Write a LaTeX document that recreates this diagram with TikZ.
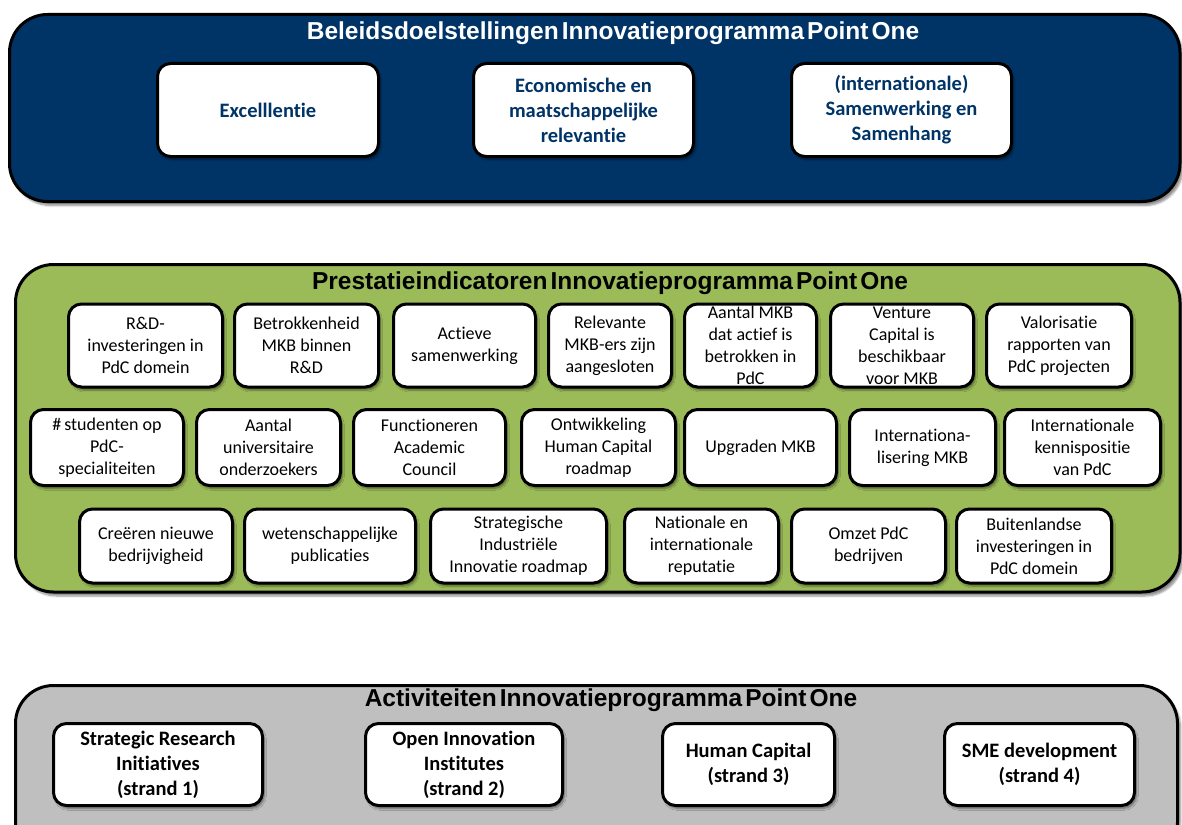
\documentclass[tikz,border=0pt]{standalone}
\usepackage{fontspec}
\setmainfont[Ligatures=NoCommon]{Carlito}
\newfontfamily\titlefont[WordSpace=0.45]{Liberation Sans}
\usetikzlibrary{shadows.blur}

\definecolor{pobblue}{RGB}{0,51,102}
\definecolor{pobgreen}{RGB}{155,187,89}
\definecolor{pobgray}{RGB}{191,191,191}

\tikzset{
  panel/.style={draw=black,line width=3pt,rounded corners=38pt,
    blur shadow={shadow xshift=3pt,shadow yshift=-4pt,shadow blur steps=6,shadow opacity=45}},
  paneltitle/.style={font=\titlefont\bfseries\fontsize{24.5}{28}\selectfont,inner sep=0pt},
  box/.style={draw=black,fill=white,line width=3pt,rounded corners=13pt,inner sep=0pt,
    align=center,
    blur shadow={shadow xshift=2pt,shadow yshift=-3pt,shadow blur steps=5,shadow opacity=45}},
  goalbox/.style={box,minimum height=93pt,text=pobblue,
    font=\bfseries\fontsize{20.5}{25}\selectfont},
  indbox/.style={box,font=\fontsize{18}{22}\selectfont},
  actbox/.style={box,minimum height=82pt,
    font=\bfseries\fontsize{20.5}{25}\selectfont}
}

\begin{document}
\begin{tikzpicture}[x=1pt,y=-1pt]
\useasboundingbox (0,0) rectangle (1182,824);

% Beleidsdoelstellingen
\path[panel,fill=pobblue] (9.5,14.5) rectangle (1180,201.5);
\node[paneltitle,text=white] (goaltitle) at (613,33) {Beleidsdoelstellingen Innovatieprogramma Point One};
\node[goalbox,minimum width=221pt] (excel) at (268,110) {Excelllentie};
\node[goalbox,minimum width=220pt] (econ) at (583.5,110) {Economische en\\maatschappelijke\\relevantie};
\node[goalbox,minimum width=220pt] (samen) at (901.5,110) {(internationale)\\Samenwerking en\\Samenhang};

% Prestatieindicatoren
\path[panel,fill=pobgreen] (15.5,264.5) rectangle (1180,592);
\node[paneltitle] (indtitle) at (610,283) {Prestatieindicatoren Innovatieprogramma Point One};

\node[indbox,minimum width=154pt,minimum height=83pt] (rdinv) at (145.5,345.5) {R\&D-\\investeringen in\\PdC domein};
\node[indbox,minimum width=144pt,minimum height=83pt] (betrok) at (306.5,345.5) {Betrokkenheid\\MKB binnen\\R\&D};
\node[indbox,minimum width=142pt,minimum height=83pt] (actief) at (464.5,345.5) {Actieve\\samenwerking};
\node[indbox,minimum width=123pt,minimum height=83pt] (relev) at (610,345.5) {Relevante\\MKB-ers zijn\\aangesloten};
\node[indbox,minimum width=132pt,minimum height=83pt] (aantalmkb) at (750.5,345.5) {Aantal MKB\\dat actief is\\betrokken in\\PdC};
\node[indbox,minimum width=143pt,minimum height=83pt] (venture) at (902,345.5) {Venture\\Capital is\\beschikbaar\\voor MKB};
\node[indbox,minimum width=145pt,minimum height=83pt] (valor) at (1059,345.5) {Valorisatie\\rapporten van\\PdC projecten};

\node[indbox,minimum width=153pt,minimum height=76pt] (stud) at (107,447.5) {\#\,studenten op\\PdC-\\specialiteiten};
\node[indbox,minimum width=144pt,minimum height=76pt] (onderz) at (268.5,447.5) {Aantal\\universitaire\\onderzoekers};
\node[indbox,minimum width=152pt,minimum height=76pt] (council) at (429.5,447.5) {Functioneren\\Academic\\Council};
\node[indbox,minimum width=154pt,minimum height=76pt] (hcroad) at (598.5,447.5) {Ontwikkeling\\Human Capital\\roadmap};
\node[indbox,minimum width=152pt,minimum height=76pt] (upgrade) at (760.5,447.5) {Upgraden MKB};
\node[indbox,minimum width=146pt,minimum height=76pt] (intmkb) at (922.5,447.5) {Internationa-\\lisering MKB};
\node[indbox,minimum width=156pt,minimum height=76pt] (kennis) at (1082.5,447.5) {Internationale\\kennispositie\\van PdC};

\node[indbox,minimum width=153pt,minimum height=74pt] (creeren) at (156,546) {Creëren nieuwe\\bedrijvigheid};
\node[indbox,minimum width=171pt,minimum height=74pt] (publ) at (330,546) {wetenschappelijke\\publicaties};
\node[indbox,minimum width=176pt,minimum height=74pt] (siroad) at (518.5,546) {Strategische\\Industriële\\Innovatie roadmap};
\node[indbox,minimum width=154pt,minimum height=74pt] (reput) at (701.5,546) {Nationale en\\internationale\\reputatie};
\node[indbox,minimum width=154pt,minimum height=74pt] (omzet) at (868.5,546) {Omzet PdC\\bedrijven};
\node[indbox,minimum width=155pt,minimum height=74pt] (buiten) at (1034,546) {Buitenlandse\\investeringen in\\PdC domein};

% Activiteiten
\path[panel,fill=pobgray] (15.5,685.5) rectangle (1177.5,860);
\node[paneltitle] (acttitle) at (611,700) {Activiteiten Innovatieprogramma Point One};
\node[actbox,minimum width=209pt] (strand1) at (158,764.5) {Strategic Research\\Initiatives\\(strand 1)};
\node[actbox,minimum width=197pt] (strand2) at (464,764.5) {Open Innovation\\Institutes\\(strand 2)};
\node[actbox,minimum width=172pt] (strand3) at (748.5,764.5) {Human Capital\\(strand 3)};
\node[actbox,minimum width=190pt] (strand4) at (1039.5,764.5) {SME development\\(strand 4)};
\end{tikzpicture}
\end{document}
